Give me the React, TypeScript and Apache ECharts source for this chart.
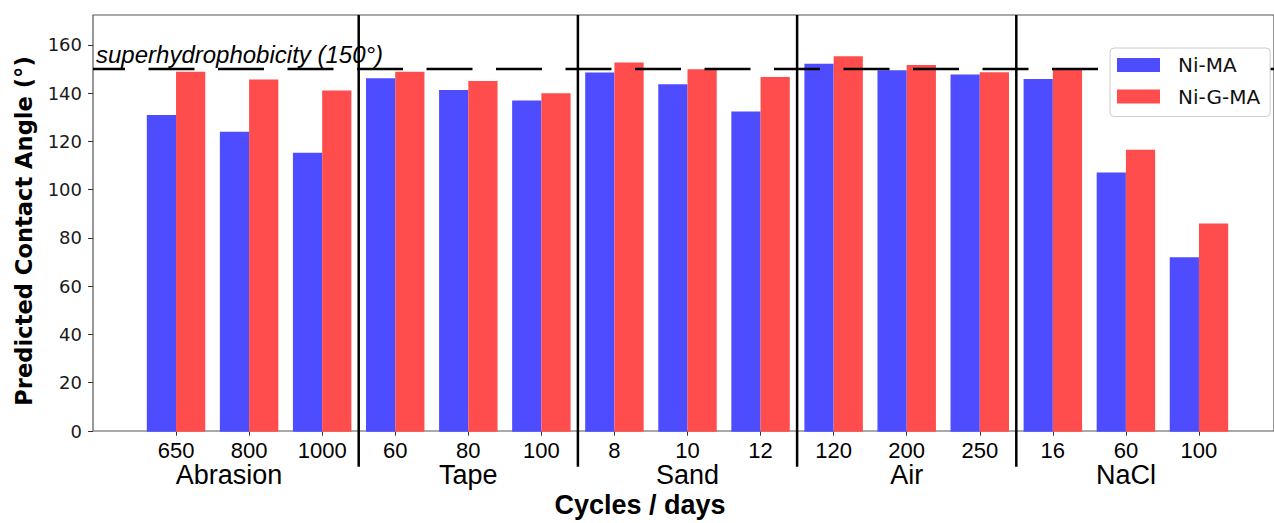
import React, { useEffect, useRef } from 'react';
import * as echarts from 'echarts';

// ---- data ----
const groups = ['Abrasion', 'Tape', 'Sand', 'Air', 'NaCl'];
const abrasionCycles = ['650', '800', '1000'];
const tapeCycles = ['60', '80', '100'];
const sandCycles = ['8', '10', '12'];
const airDays = ['120', '200', '250'];
const naclDays = ['16', '60', '100'];
const groupCycles = [abrasionCycles, tapeCycles, sandCycles, airDays, naclDays];

const niMA = [131.0, 124.1, 115.4, 146.2, 141.4, 137.0, 148.6, 143.8, 132.5, 152.2, 149.5, 147.8, 145.9, 107.2, 72.2];
const niGMA = [148.9, 145.7, 141.2, 148.9, 145.1, 140.0, 152.7, 150.0, 146.8, 155.3, 151.7, 148.7, 150.1, 116.6, 86.1];

const yTicks = [0, 20, 40, 60, 80, 100, 120, 140, 160];
const yMax = 172.4;
const threshold = 150;
const thresholdLabel = 'superhydrophobicity (150°)';
const seriesNames = ['Ni-MA', 'Ni-G-MA'];
const xTitle = 'Cycles / days';
const yTitle = 'Predicted Contact Angle (°)';

// derived
const categories: string[] = [];
const groupMid: Record<number, string> = {};
const groupEnds: number[] = [];
groupCycles.forEach((cyc, gi) => {
  const start = categories.length;
  cyc.forEach((c) => categories.push(groups[gi] + '|' + c));
  groupMid[start + Math.floor(cyc.length / 2)] = groups[gi];
  if (gi < groupCycles.length - 1) groupEnds.push(categories.length - 1);
});

// legend swatch: 43x14 rect inside a 56px-wide icon box (text then starts 18px after the swatch)
const legendIcon = 'path://M0,0H43V14H0Z M56,0H56.01V14H56Z';

export default function App() {
  const ref = useRef<HTMLDivElement>(null);
  useEffect(() => {
    if (!ref.current) return;
    const chart = echarts.init(ref.current, undefined, { renderer: 'svg' });
    const top = 15;
    const height = 416.7;
    const option: any = {
      animation: false,
      backgroundColor: '#fff',
      grid: [
        { left: 139.5, top, width: 1096, height, show: false },
        { left: 93, top, width: 1183, height, show: true, borderColor: '#555', borderWidth: 1.2, backgroundColor: 'transparent' },
      ],
      legend: {
        data: seriesNames,
        orient: 'vertical',
        left: 1110,
        top: 48,
        z: 10,
        padding: [7, 10, 10, 7],
        itemWidth: 56,
        itemHeight: 14,
        itemGap: 11.5,
        icon: legendIcon,
        selectedMode: false,
        backgroundColor: '#fff',
        borderColor: '#cccccc',
        borderWidth: 1,
        borderRadius: 4,
        textStyle: { fontFamily: 'DejaVu Sans', fontSize: 20, color: '#111' },
      },
      graphic: [
        {
          type: 'text',
          x: 24,
          y: 231,
          rotation: Math.PI / 2,
          z: 10,
          style: {
            text: yTitle,
            fontFamily: 'DejaVu Sans',
            fontWeight: 'bold',
            fontSize: 22.6,
            fill: '#000',
            align: 'center',
            verticalAlign: 'middle',
          },
        },
      ],
      xAxis: [
        {
          type: 'category',
          gridIndex: 0,
          data: categories,
          axisLine: { show: false },
          axisTick: { show: true, alignWithLabel: true, length: 4, lineStyle: { color: '#333' } },
          axisLabel: {
            interval: 0,
            margin: 8.8,
            lineHeight: 19,
            fontFamily: 'Liberation Sans',
            fontSize: 22,
            color: '#000',
            formatter: (v: string) => v.split('|')[1],
          },
          splitLine: { show: false },
        },
        {
          type: 'category',
          gridIndex: 0,
          position: 'bottom',
          data: categories,
          axisLine: { show: false },
          axisTick: { show: false },
          axisLabel: {
            interval: 0,
            margin: 31.5,
            lineHeight: 24,
            fontFamily: 'Liberation Sans',
            fontSize: 27,
            color: '#000',
            formatter: (_v: string, idx: number) => {
              const g = groupMid[idx];
              if (!g) return '';
              return idx === 1 ? '{shift|' + g + '}' : g;
            },
            rich: {
              shift: { fontFamily: 'Liberation Sans', fontSize: 27, lineHeight: 24, color: '#000', padding: [0, 40, 0, 0] },
            },
          },
          splitLine: { show: false },
        },
        {
          type: 'value',
          gridIndex: 1,
          min: 0,
          max: 1,
          axisLine: { show: false },
          axisTick: { show: false },
          axisLabel: { show: false },
          splitLine: { show: false },
          name: xTitle,
          nameLocation: 'middle',
          nameGap: 60,
          nameTextStyle: {
            fontFamily: 'Liberation Sans',
            fontWeight: 'bold',
            fontSize: 27,
            color: '#000',
            padding: [0, 87, 0, 0],
          },
        },
      ],
      yAxis: [
        { type: 'value', gridIndex: 0, min: 0, max: yMax, show: false },
        {
          type: 'value',
          gridIndex: 1,
          min: 0,
          max: yMax,
          axisLine: { show: false },
          splitLine: { show: false },
          axisTick: { show: true, length: 5, customValues: yTicks, lineStyle: { color: '#333' } },
          axisLabel: {
            customValues: yTicks,
            margin: 11,
            fontFamily: 'DejaVu Sans',
            fontSize: 18,
            color: '#1a1a1a',
          },
        },
      ],
      series: [
        {
          name: seriesNames[0],
          type: 'bar',
          xAxisIndex: 0,
          yAxisIndex: 0,
          data: niMA,
          barWidth: '40%',
          barGap: '0%',
          itemStyle: { color: '#4D4DFF' },
        },
        {
          name: seriesNames[1],
          type: 'bar',
          xAxisIndex: 0,
          yAxisIndex: 0,
          data: niGMA,
          barWidth: '40%',
          barGap: '0%',
          itemStyle: { color: '#FF4D4D' },
        },
        {
          name: 'separators',
          type: 'custom',
          xAxisIndex: 0,
          yAxisIndex: 0,
          clip: false,
          silent: true,
          z: 5,
          data: groupEnds.map((i) => [i, 0]),
          encode: { x: 0, y: 1 },
          renderItem: (_params: any, api: any) => {
            const idx = api.value(0);
            const base = api.coord([idx, 0]);
            const band = api.size([1, 0])[0];
            const x = base[0] + band / 2;
            const yTop = api.coord([idx, yMax])[1];
            return {
              type: 'line',
              shape: { x1: x, y1: yTop, x2: x, y2: base[1] + 35 },
              style: { stroke: '#000', lineWidth: 2.5 },
            };
          },
        },
        {
          name: 'threshold',
          type: 'line',
          xAxisIndex: 2,
          yAxisIndex: 1,
          data: [],
          silent: true,
          markLine: {
            silent: true,
            symbol: 'none',
            animation: false,
            lineStyle: { color: '#000', width: 2.3, type: [46, 23.5], dashOffset: 14 },
            label: {
              show: true,
              position: 'insideStartTop',
              formatter: thresholdLabel,
              fontFamily: 'Liberation Sans',
              fontStyle: 'italic',
              fontSize: 24,
              color: '#000',
              distance: 3,
            },
            data: [{ yAxis: threshold }],
          },
        },
      ],
    };
    chart.setOption(option);
    return () => chart.dispose();
  }, []);
  return (
    <div
      ref={ref}
      style={{ position: 'absolute', left: 0, top: 0, width: 1274, height: 523, background: '#fff' }}
    />
  );
}
